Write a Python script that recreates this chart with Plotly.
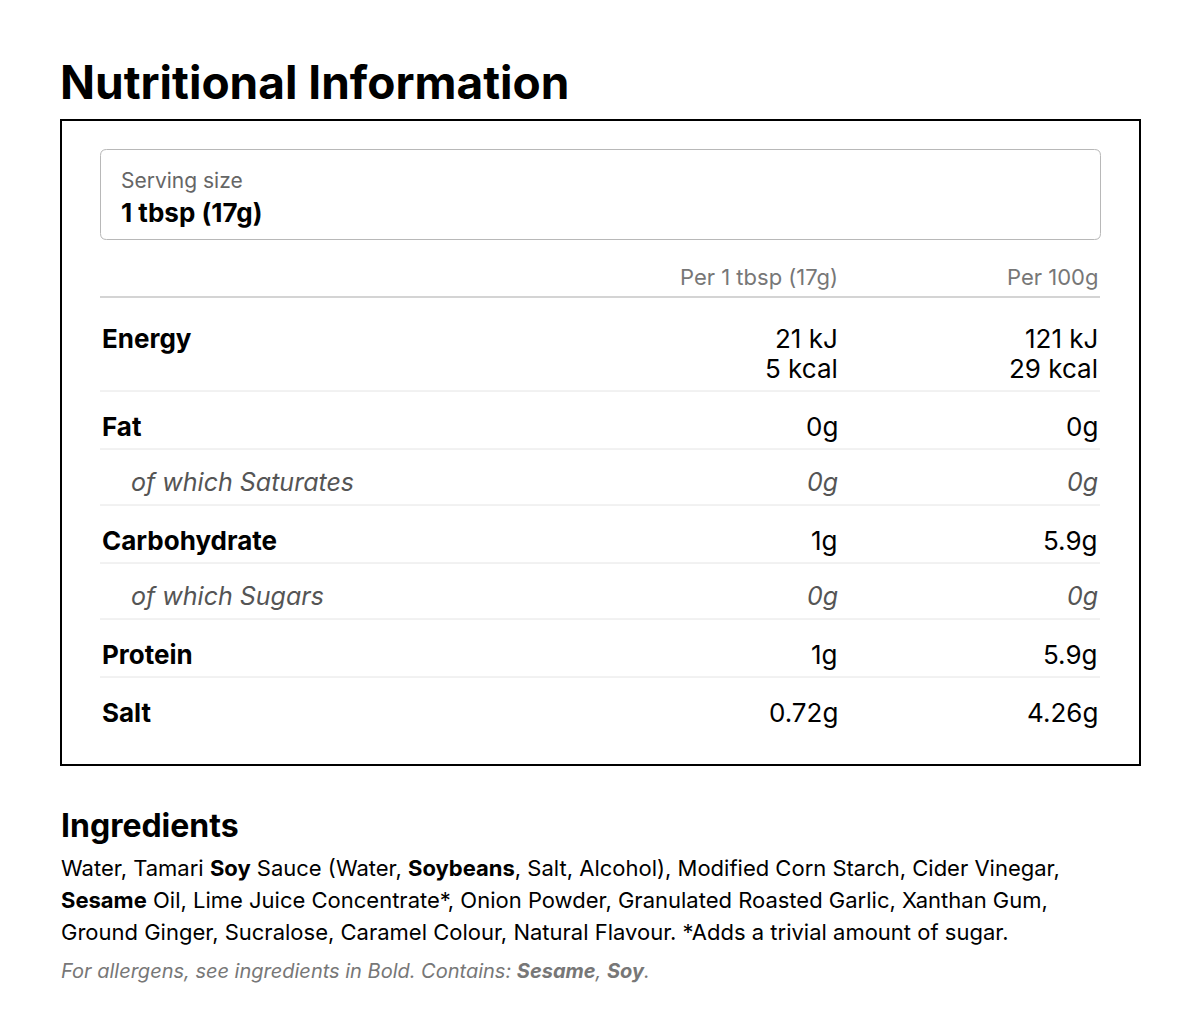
import plotly.graph_objects as go

nutrients = ["Energy", "Fat", "of which Saturates", "Carbohydrate", "of which Sugars", "Protein", "Salt"]
per_serving = [["21 kJ", "5 kcal"], ["0g"], ["0g"], ["1g"], ["0g"], ["1g"], ["0.72g"]]
per_100g = [["121 kJ", "29 kcal"], ["0g"], ["0g"], ["5.9g"], ["0g"], ["5.9g"], ["4.26g"]]
is_sub = [False, False, True, False, True, False, False]
col_headers = ["Per 1 tbsp (17g)", "Per 100g"]
serving_label = "Serving size"
serving_value = "1 tbsp (17g)"
ingredient_lines = [
    "Water, Tamari <b>Soy</b> Sauce (Water, <b>Soybeans</b>, Salt, Alcohol), Modified Corn Starch, Cider Vinegar,",
    "<b>Sesame</b> Oil, Lime Juice Concentrate*, Onion Powder, Granulated Roasted Garlic, Xanthan Gum,",
    "Ground Ginger, Sucralose, Caramel Colour, Natural Flavour. *Adds a trivial amount of sugar.",
]
allergen_note = "<i>For allergens, see ingredients in Bold. Contains: <b>Sesame</b>, <b>Soy</b>.</i>"

FONT = "Inter"
fig = go.Figure()
ann = []
shapes = []

def A(x, y, text, size, color="#000", xanchor="left", bold=False, italic=False):
    t = text
    if bold:
        t = f"<b>{t}</b>"
    if italic:
        t = f"<i>{t}</i>"
    ann.append(dict(x=x, y=y, xref="x", yref="y", text=t, showarrow=False,
                    xanchor=xanchor, yanchor="middle",
                    font=dict(family=FONT, size=size, color=color)))

A(58, 82, "Nutritional Information", 46, bold=True)
shapes.append(dict(type="rect", x0=61, x1=1140, y0=120, y1=765, xref="x", yref="y",
                   line=dict(color="#000", width=2)))
r = 6
x0, x1, y0, y1 = 100.5, 1100.5, 149.5, 239.5
path = (f"M {x0+r},{y0} L {x1-r},{y0} Q {x1},{y0} {x1},{y0+r} L {x1},{y1-r} Q {x1},{y1} {x1-r},{y1} "
        f"L {x0+r},{y1} Q {x0},{y1} {x0},{y1-r} L {x0},{y0+r} Q {x0},{y0} {x0+r},{y0} Z")
shapes.append(dict(type="path", path=path, xref="x", yref="y", line=dict(color="#b8b8b8", width=1)))
A(119, 180, serving_label, 21, color="#666")
A(119, 212, serving_value, 26, bold=True)

colx = [840, 1100]
A(colx[0], 277, col_headers[0], 22, color="#777", xanchor="right")
A(colx[1], 277, col_headers[1], 22, color="#777", xanchor="right")
shapes.append(dict(type="line", x0=100, x1=1100, y0=297, y1=297, xref="x", yref="y",
                   line=dict(color="#aaa", width=1.2)))

row_tops = [338, 426, 482, 540, 596, 654, 712]
seps = [391, 449, 505, 563, 619, 677]
for i, name in enumerate(nutrients):
    y = row_tops[i]
    if is_sub[i]:
        A(129, y, name, 25, color="#555", italic=True)
    else:
        A(100, y, name, 26, bold=True)
    for c, vals in enumerate([per_serving[i], per_100g[i]]):
        for k, v in enumerate(vals):
            A(colx[c], y + 30 * k, v, 26 if not is_sub[i] else 25,
              color="#555" if is_sub[i] else "#000", xanchor="right", italic=is_sub[i])
for s in seps:
    shapes.append(dict(type="line", x0=100, x1=1100, y0=s, y1=s, xref="x", yref="y",
                       line=dict(color="#e4e4e4", width=1)))

A(59, 825, "Ingredients", 32, bold=True)
for j, line in enumerate(ingredient_lines):
    A(59, 868 + 32 * j, line, 22)
A(59, 971, allergen_note, 20, color="#777")

fig.update_layout(width=1200, height=1033, margin=dict(l=0, r=0, t=0, b=0),
                  paper_bgcolor="white", plot_bgcolor="white",
                  xaxis=dict(range=[8, 1208], visible=False, fixedrange=True),
                  yaxis=dict(range=[1041, 8], visible=False, fixedrange=True),
                  annotations=ann, shapes=shapes, showlegend=False)
fig.write_html("out.html", config={"displayModeBar": False})
